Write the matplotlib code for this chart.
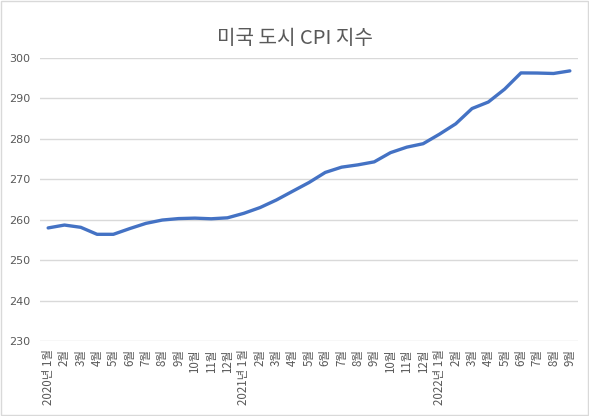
#!/usr/bin/env python
import matplotlib
matplotlib.use('Agg')
import matplotlib.pyplot as plt
from matplotlib.patches import Rectangle

plt.rcParams['font.family'] = ['Noto Sans CJK KR', 'DejaVu Sans']

# 미국 도시 CPI 지수, 2020.1 ~ 2022.9
years = [2020] * 12 + [2021] * 12 + [2022] * 9
months = list(range(1, 13)) * 2 + list(range(1, 10))
cpi = [257.97, 258.68, 258.12, 256.39, 256.39, 257.80, 259.10, 259.92, 260.28,
       260.39, 260.23, 260.47, 261.58, 263.01, 264.88, 267.05, 269.20, 271.70,
       273.00, 273.57, 274.31, 276.59, 277.95, 278.80, 281.15, 283.72, 287.50,
       289.11, 292.30, 296.31, 296.28, 296.17, 296.81]
yticks = [230, 240, 250, 260, 270, 280, 290, 300]

labels = []
for y, m in zip(years, months):
    if m == 1:
        labels.append('%d년 %d월' % (y, m))
    else:
        labels.append('%d월' % m)

fig = plt.figure(figsize=(5.89, 4.16), dpi=100)
ax = fig.add_axes([40 / 589, 75 / 416, 538 / 589, 283 / 416])

xs = list(range(len(cpi)))
ax.plot(xs, cpi, color='#4472C4', linewidth=2.4, solid_capstyle='round',
        solid_joinstyle='round', zorder=3)

ax.set_xlim(-0.5, len(cpi) - 0.5)
ax.set_ylim(230, 300)
ax.set_yticks(yticks)
ax.set_xticks(xs)
ax.set_xticklabels(labels, rotation=90, fontsize=8.3, color='#595959')
ax.tick_params(axis='y', labelsize=8, colors='#595959', length=0, pad=7)
ax.tick_params(axis='x', length=0, pad=6)
for t in ax.get_yticklabels():
    t.set_fontfamily(['DejaVu Sans'])
    t.set_color('#595959')
ax.grid(axis='y', color='#D9D9D9', linewidth=1)
ax.set_axisbelow(True)
for s in ax.spines.values():
    s.set_visible(False)

fig.text(0.5, 1 - 38 / 416, '미국 도시 CPI 지수', ha='center', va='center',
         fontsize=14.5, color='#595959')
fig.patches.append(Rectangle((0.002, 0.002), 0.996, 0.996,
                             transform=fig.transFigure, fill=False,
                             edgecolor='#D9D9D9', linewidth=1))

fig.savefig('out.png', dpi=100)
